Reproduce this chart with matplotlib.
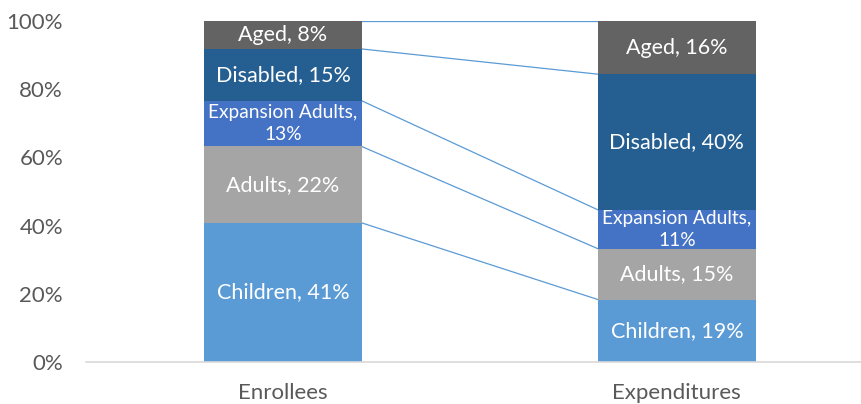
import matplotlib
matplotlib.use("Agg")
import matplotlib.pyplot as plt
import numpy as np

categories = ["Enrollees", "Expenditures"]
groups = ["Children", "Adults", "Expansion Adults", "Disabled", "Aged"]
enrollees = [40.8, 22.4, 13.4, 15.2, 8.2]
expenditures = [18.3, 14.9, 11.4, 39.8, 15.6]
enrollee_labels = ["41%", "22%", "13%", "15%", "8%"]
expenditure_labels = ["19%", "15%", "11%", "40%", "16%"]
colors = ["#5b9bd5", "#a5a5a5", "#4472c4", "#255e91", "#636363"]

plt.rcParams['font.family'] = ['Lato', 'DejaVu Sans']

fig = plt.figure(figsize=(8.62, 4.04), dpi=100)
ax = fig.add_axes([86/862, 1-362/404, 776/862, 341/404])

x = np.arange(len(categories))
width = 0.40
data = np.array([enrollees, expenditures]).T  # groups x cats
labels = [enrollee_labels, expenditure_labels]
bottoms = np.zeros(len(categories))
for gi, g in enumerate(groups):
    vals = data[gi]
    bars = ax.bar(x, vals, width, bottom=bottoms, color=colors[gi],
                  edgecolor='none', zorder=3)
    for ci, b in enumerate(bars):
        cy = bottoms[ci] + vals[ci] / 2
        if g == "Expansion Adults":
            t = ax.text(x[ci], cy, f"{g},\n{labels[ci][gi]}", ha='center',
                        va='center', color='white', fontsize=13.8,
                        linespacing=1.35, zorder=4)
        else:
            t = ax.text(x[ci], cy, f"{g}, {labels[ci][gi]}", ha='center',
                        va='center', color='white', fontsize=15.5, zorder=4)
        t.set_clip_path(b)
    bottoms = bottoms + vals

# series lines
cum = np.cumsum(data, axis=0)
for gi in range(len(groups)):
    ax.plot([x[0] + width / 2, x[1] - width / 2], [cum[gi, 0], cum[gi, 1]],
            color='#5b9bd5', lw=0.9, zorder=2)

ax.set_xlim(-0.5, 1.47)
ax.set_ylim(0, 100)
ax.set_yticks(np.arange(0, 101, 20))
ax.set_yticklabels([f"{v}%" for v in range(0, 101, 20)])
ax.set_xticks(x)
ax.set_xticklabels(categories)
ax.tick_params(axis='both', length=0, labelsize=16, colors='#595959')
ax.tick_params(axis='y', pad=16.5)
ax.tick_params(axis='x', pad=15)
for s in ['top', 'right', 'left']:
    ax.spines[s].set_visible(False)
ax.spines['bottom'].set_color('#d9d9d9')
ax.spines['bottom'].set_linewidth(1.2)
ax.spines['bottom'].set_zorder(5)

fig.savefig("out.png", dpi=100)
